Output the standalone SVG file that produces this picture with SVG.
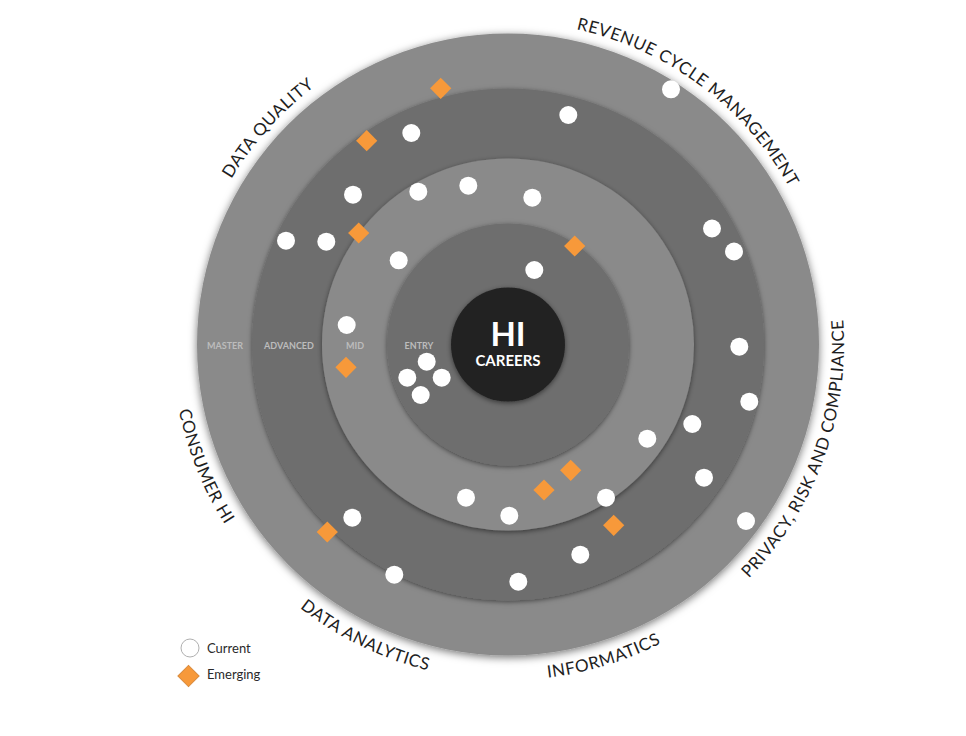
<svg xmlns="http://www.w3.org/2000/svg" xmlns:xlink="http://www.w3.org/1999/xlink" width="966" height="736" viewBox="0 0 966 736">
<style>
.lbl{font-family:Lato,"Open Sans","Liberation Sans",sans-serif;font-size:17px;fill:#1e1e1e;letter-spacing:0.6px}
.ring{font-family:Lato,"Open Sans","Liberation Sans",sans-serif;font-size:9px;font-weight:bold;fill:#bcbcbc;text-anchor:middle}
.cur{fill:#ffffff}
.emg{fill:#f7993a}
.leg{font-family:Lato,"Open Sans","Liberation Sans",sans-serif;font-size:13px;fill:#2a2a2a}
</style>
<defs>
<filter id="sh" x="-20%" y="-20%" width="140%" height="140%">
<feDropShadow dx="0" dy="2" stdDeviation="4" flood-color="#000" flood-opacity="0.55"/>
</filter>
<filter id="sh2" x="-20%" y="-20%" width="140%" height="140%">
<feDropShadow dx="0" dy="1.5" stdDeviation="2.5" flood-color="#000" flood-opacity="0.5"/>
</filter>
<path id="pRev" d="M286.8,110 A322,322 0 0 1 795.9,488.2" fill="none"/>
<path id="pDQ" d="M254.3,542.3 A322,322 0 0 1 678.6,70.9" fill="none"/>
<path id="pPriv" d="M449.7,674.9 A336,336 0 0 0 676,53" fill="none"/>
<path id="pInf" d="M208.6,496.5 A336,336 0 0 0 841.5,303.1" fill="none"/>
<path id="pDA" d="M185,251.4 A336,336 0 0 0 779.8,541.5" fill="none"/>
<path id="pCon" d="M330,59.1 A336,336 0 0 0 577.9,672.6" fill="none"/>
<rect id="dm" x="-7.5" y="-7.5" width="15" height="15" transform="rotate(45)"/>
</defs>
<rect width="966" height="736" fill="#ffffff"/>

<g id="rings">
<g id="ring-master"><circle cx="508" cy="344.5" r="311" fill="#8a8a8a" filter="url(#sh)"/></g>
<g id="ring-advanced"><circle cx="508" cy="344.5" r="256" fill="#6e6e6e" filter="url(#sh2)"/></g>
<g id="ring-mid"><circle cx="508" cy="344.5" r="186" fill="#8a8a8a" filter="url(#sh2)"/></g>
<g id="ring-entry"><circle cx="508" cy="344.5" r="121" fill="#6e6e6e" filter="url(#sh2)"/></g>
<g id="center">
<circle cx="508" cy="344.5" r="57" fill="#222222" filter="url(#sh2)"/>
<text x="508" y="346" text-anchor="middle" font-family="Lato,'Open Sans','Liberation Sans',sans-serif" font-weight="bold" font-size="33" fill="#ffffff">HI</text>
<text x="508" y="365.5" text-anchor="middle" font-family="Lato,'Open Sans','Liberation Sans',sans-serif" font-weight="bold" font-size="15" fill="#ffffff">CAREERS</text>
</g>
</g>

<g id="ring-labels">
<text class="ring" x="225" y="349">MASTER</text>
<text class="ring" x="289" y="349">ADVANCED</text>
<text class="ring" x="355" y="349">MID</text>
<text class="ring" x="419" y="349">ENTRY</text>
</g>

<g id="category-labels">
<text class="lbl"><textPath xlink:href="#pRev" href="#pRev" startOffset="50%" text-anchor="middle">REVENUE CYCLE MANAGEMENT</textPath></text>
<text class="lbl"><textPath xlink:href="#pDQ" href="#pDQ" startOffset="50%" text-anchor="middle">DATA QUALITY</textPath></text>
<text class="lbl"><textPath xlink:href="#pPriv" href="#pPriv" startOffset="50%" text-anchor="middle">PRIVACY, RISK AND COMPLIANCE</textPath></text>
<text class="lbl"><textPath xlink:href="#pInf" href="#pInf" startOffset="50%" text-anchor="middle">INFORMATICS</textPath></text>
<text class="lbl"><textPath xlink:href="#pDA" href="#pDA" startOffset="50%" text-anchor="middle">DATA ANALYTICS</textPath></text>
<text class="lbl"><textPath xlink:href="#pCon" href="#pCon" startOffset="50%" text-anchor="middle">CONSUMER HI</textPath></text>
</g>

<g id="current">
<circle class="cur" cx="671" cy="89.3" r="9"/>
<circle class="cur" cx="568.3" cy="115" r="9"/>
<circle class="cur" cx="411.3" cy="133" r="9"/>
<circle class="cur" cx="353" cy="194.7" r="9"/>
<circle class="cur" cx="418.3" cy="191.7" r="9"/>
<circle class="cur" cx="468.3" cy="185.7" r="9"/>
<circle class="cur" cx="532.3" cy="197.7" r="9"/>
<circle class="cur" cx="286" cy="240.7" r="9"/>
<circle class="cur" cx="326.3" cy="241.7" r="9"/>
<circle class="cur" cx="712" cy="228.5" r="9"/>
<circle class="cur" cx="734" cy="251.5" r="9"/>
<circle class="cur" cx="398.7" cy="260.3" r="9"/>
<circle class="cur" cx="534.3" cy="270" r="9"/>
<circle class="cur" cx="346.7" cy="325" r="9"/>
<circle class="cur" cx="739.3" cy="346.7" r="9"/>
<circle class="cur" cx="749.3" cy="401.7" r="9"/>
<circle class="cur" cx="426.7" cy="361.7" r="9"/>
<circle class="cur" cx="407.3" cy="377.7" r="9"/>
<circle class="cur" cx="441.7" cy="377.7" r="9"/>
<circle class="cur" cx="420.7" cy="395" r="9"/>
<circle class="cur" cx="692.3" cy="424" r="9"/>
<circle class="cur" cx="647.3" cy="438.7" r="9"/>
<circle class="cur" cx="704" cy="477.7" r="9"/>
<circle class="cur" cx="466" cy="497.7" r="9"/>
<circle class="cur" cx="606" cy="497.7" r="9"/>
<circle class="cur" cx="509.3" cy="515.7" r="9"/>
<circle class="cur" cx="352.3" cy="517.7" r="9"/>
<circle class="cur" cx="746" cy="521" r="9"/>
<circle class="cur" cx="580.3" cy="554.7" r="9"/>
<circle class="cur" cx="394.3" cy="574.7" r="9"/>
<circle class="cur" cx="518.3" cy="581.7" r="9"/>
</g>

<g id="emerging">
<use href="#dm" xlink:href="#dm" class="emg" x="440.7" y="88.3"/>
<use href="#dm" xlink:href="#dm" class="emg" x="366.7" y="140.7"/>
<use href="#dm" xlink:href="#dm" class="emg" x="358.7" y="233"/>
<use href="#dm" xlink:href="#dm" class="emg" x="574.7" y="246"/>
<use href="#dm" xlink:href="#dm" class="emg" x="346" y="367.3"/>
<use href="#dm" xlink:href="#dm" class="emg" x="570.7" y="470.3"/>
<use href="#dm" xlink:href="#dm" class="emg" x="544" y="490"/>
<use href="#dm" xlink:href="#dm" class="emg" x="613.7" y="525.3"/>
<use href="#dm" xlink:href="#dm" class="emg" x="327.3" y="532"/>
</g>

<g id="legend">
<circle cx="190" cy="648" r="9" fill="#ffffff" stroke="#b0b0b0" stroke-width="1"/>
<text class="leg" x="207" y="653">Current</text>
<use href="#dm" xlink:href="#dm" x="188.5" y="676" fill="#f7993a" stroke="#d88a3c" stroke-width="1"/>
<text class="leg" x="207" y="679">Emerging</text>
</g>
</svg>
